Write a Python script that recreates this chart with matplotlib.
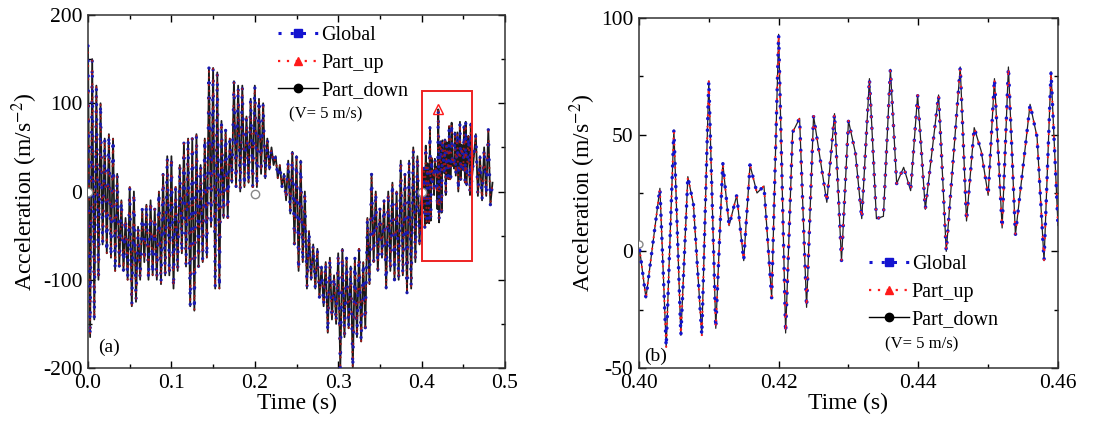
import numpy as np
import matplotlib
matplotlib.use("Agg")
import matplotlib.pyplot as plt
from matplotlib.lines import Line2D
from matplotlib.patches import Rectangle
from matplotlib.ticker import MultipleLocator

plt.rcParams['font.family'] = ['Liberation Serif', 'DejaVu Serif']
plt.rcParams['mathtext.fontset'] = 'stix'
plt.rcParams['axes.unicode_minus'] = False

# ---- data ----
# coarse peak/trough envelope for the full record (peaks at t, troughs at t + 2.5 ms)
step = 0.005
pre_t0 = 0.0
pre_hi = [165, 150, 120, 100, 60, 65, 60, 20, -10, -30,
          5, 0, -40, -20, -15, -10, -20, 0, 20, 40,
          40, 5, 30, 55, 60, 60, 65, 30, 60, 140,
          140, 135, 80, 70, 60, 125, 120, 120, 85, 105,
          120, 105, 100, 60, 50, 40, 30, 20, 35, 45,
          40, 35, 0, -45, -60, -65, -85, -80, -75, -95,
          -70, -65, -75, -85, -75, -65, -80, -30, 20, 0,
          -20, -10, 0, 10, 0, 35, 20, 35, 50, 40]
pre_lo = [-165, -145, -100, -60, -70, -75, -90, -85, -90, -100,
          -130, -125, -100, -80, -100, -95, -100, -105, -95, -95,
          -110, -90, -70, -85, -130, -135, -85, -80, -75, -40,
          -110, -110, -30, -30, 10, 5, 0, 5, 10, 5,
          5, 20, 15, 25, 30, 15, 5, -10, -25, -60,
          -90, -80, -110, -100, -110, -120, -130, -160, -145, -150,
          -200, -165, -155, -200, -165, -170, -155, -105, -80, -90,
          -75, -110, -90, -100, -100, -95, -115, -110, -80, -60]

# zoomed window 0.40 - 0.46 s, turning points
detail_t = [0.4000, 0.4010, 0.4030, 0.4039, 0.4050, 0.4060, 0.4070, 0.4078, 0.4090, 0.4100,
            0.4110, 0.4120, 0.4129, 0.4140, 0.4150, 0.4159, 0.4169, 0.4179, 0.4190, 0.4200,
            0.4210, 0.4220, 0.4230, 0.4240, 0.4250, 0.4269, 0.4280, 0.4290, 0.4300, 0.4310,
            0.4319, 0.4330, 0.4340, 0.4350, 0.4360, 0.4369, 0.4379, 0.4389, 0.4399, 0.4410,
            0.4429, 0.4440, 0.4460, 0.4469, 0.4480, 0.4490, 0.4500, 0.4509, 0.4520, 0.4529,
            0.4539, 0.4560, 0.4570, 0.4580, 0.4590, 0.4600]
detail_v = [3, -20, 27, -41, 52, -36, 32, 20, -36, 73,
            -33, 38, 11, 24, -4, 37, 25, 28, -20, 93,
            -35, 51, 57, -24, 58, 21, 59, -4, 56, 42,
            14, 74, 14, 15, 78, 29, 36, 26, 67, 18,
            67, 0, 79, 13, 53, 43, 24, 74, 10, 79,
            7, 63, 49, -4, 77, 11]

post_t0 = 0.465
post_hi = [65, 40, 50, 70]
post_lo = [-5, -10, -5, -15]
end_t, end_v = 0.485, 10

# hollow markers at segment starts (Origin artefacts)
open_t = [0.0, 0.2, 0.4]
open_v = [0, -3, 0]
peak_t, peak_v = 0.42, 93

# ---- assemble series ----
t, v = [], []
for i, (h, l) in enumerate(zip(pre_hi, pre_lo)):
    t += [pre_t0 + i * step, pre_t0 + i * step + step / 2]
    v += [h, l]
t += detail_t
v += detail_v
for i, (h, l) in enumerate(zip(post_hi, post_lo)):
    t += [post_t0 + i * step, post_t0 + i * step + step / 2]
    v += [h, l]
t.append(end_t)
v.append(end_v)
t = np.array(t)
v = np.array(v)

BLUE = '#1414d0'
RED = '#ff1a1a'


def draw(ax, dense=False):
    if dense:
        # full record: dark band with blue / dark red dots
        ax.plot(t, v, color='#1a1a1a', lw=1.3, zorder=2)
        ax.plot(t, v, color='#1a1ab0', lw=2.4, ls=(0, (0.01, 4.5)),
                dash_capstyle='round', zorder=3)
        ax.plot(t, v, color='#a01818', lw=1.6, ls=(3.0, (0.01, 6.0)),
                dash_capstyle='round', zorder=4)
    else:
        ax.plot(t, v, color='#222222', lw=0.9, zorder=2)
        ax.plot(t, v, color=BLUE, lw=2.6, ls=(0, (0.01, 3.2)),
                dash_capstyle='round', zorder=3)
        ax.plot(t, v, color=RED, lw=1.6, ls=(2.6, (0.01, 5.2)),
                dash_capstyle='round', zorder=4)


def style(ax):
    ax.tick_params(which='both', direction='in', top=True, right=True,
                   labelsize=15.5, pad=4)
    ax.tick_params(which='major', length=5, width=1)
    ax.tick_params(which='minor', length=3, width=1)
    for s in ax.spines.values():
        s.set_linewidth(1.1)
        s.set_color('#333333')
    ax.set_xlabel('Time (s)', fontsize=17, labelpad=0)
    ax.set_ylabel('Acceleration (m/s$^{-2}$)', fontsize=17, labelpad=2)


def legend(ax, anchor, vpos):
    h = [Line2D([], [], color=BLUE, ls=(0, (1, 3)), lw=2.2, marker='s', ms=6),
         Line2D([], [], color=RED, ls=(0, (1, 3)), lw=1.6, marker='^', ms=6),
         Line2D([], [], color='black', lw=1.0, marker='o', ms=6)]
    ax.legend(h, ['Global', 'Part_up', 'Part_down'], loc='upper left',
              bbox_to_anchor=anchor, frameon=False, fontsize=14.5,
              handlelength=2.0, handletextpad=0.15, labelspacing=0.42,
              borderaxespad=0, borderpad=0)
    ax.text(vpos[0], vpos[1], '(V= 5 m/s)', transform=ax.transAxes,
            fontsize=12, va='center', ha='left')


fig = plt.figure(figsize=(10.99, 4.29), dpi=100)
ax1 = fig.add_axes([0.0801, 0.1422, 0.3794, 0.8228])
ax2 = fig.add_axes([0.5814, 0.1422, 0.3813, 0.8159])

# (a) full record
draw(ax1, dense=True)
ax1.plot(open_t, open_v, 'o', mfc='white', mec='#888888', ms=6, mew=1, zorder=6)
ax1.plot([peak_t], [peak_v], '^', mfc='none', mec=RED, ms=7, mew=1, zorder=6)
ax1.add_patch(Rectangle((0.40, -79), 0.06, 193, fill=False, ec='#ee2222',
                        lw=1.4, zorder=7))
ax1.set_xlim(0, 0.5)
ax1.set_ylim(-200, 200)
ax1.xaxis.set_major_locator(MultipleLocator(0.1))
ax1.xaxis.set_minor_locator(MultipleLocator(0.05))
ax1.yaxis.set_major_locator(MultipleLocator(100))
ax1.yaxis.set_minor_locator(MultipleLocator(50))
ax1.xaxis.set_major_formatter(lambda x, p: f'{x:.1f}')
style(ax1)
ax1.text(0.025, 0.045, '(a)', transform=ax1.transAxes, fontsize=14)
legend(ax1, (0.455, 0.968), (0.482, 0.719))

# (b) zoomed window
draw(ax2)
ax2.plot([0.4], [3], 'o', mfc='white', mec='#888888', ms=5, mew=1, zorder=6)
ax2.set_xlim(0.40, 0.46)
ax2.set_ylim(-50, 100)
ax2.xaxis.set_major_locator(MultipleLocator(0.02))
ax2.xaxis.set_minor_locator(MultipleLocator(0.01))
ax2.yaxis.set_major_locator(MultipleLocator(50))
ax2.yaxis.set_minor_locator(MultipleLocator(25))
ax2.xaxis.set_major_formatter(lambda x, p: f'{x:.2f}')
style(ax2)
ax2.text(0.012, 0.02, '(b)', transform=ax2.transAxes, fontsize=14)
legend(ax2, (0.548, 0.322), (0.587, 0.067))

fig.savefig('out.png', dpi=100)
